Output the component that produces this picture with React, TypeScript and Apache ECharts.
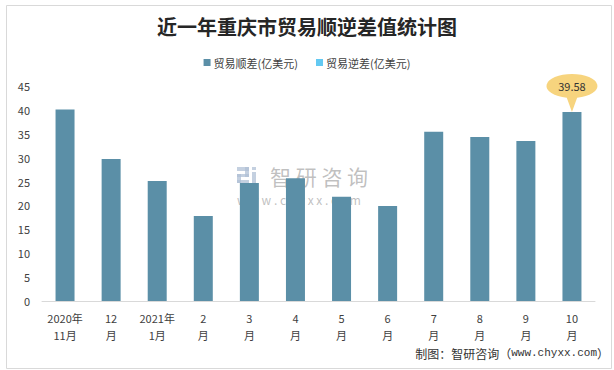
import React, { useEffect, useRef } from "react";
import * as echarts from "echarts";

const categories = ["2020年\n11月", "12\n月", "2021年\n1月", "2\n月", "3\n月", "4\n月", "5\n月", "6\n月", "7\n月", "8\n月", "9\n月", "10\n月"];
const surplus = [40.1, 29.7, 25.1, 17.8, 24.7, 25.7, 21.8, 19.9, 35.4, 34.3, 33.5, 39.58];
const deficit: (number | string)[] = [];
const seriesNames = ["贸易顺差(亿美元)", "贸易逆差(亿美元)"];
const titleText = "近一年重庆市贸易顺逆差值统计图";
const sourcePrefix = "制图：智研咨询（";
const sourceUrl = "www.chyxx.com";
const sourceSuffix = "）";

const calloutPath =
  "path://M50,0 A50,24 0 0 1 60.15,47.5 L50,76 L39.85,47.5 A50,24 0 0 1 50,0 Z";

export default function App() {
  const ref = useRef<HTMLDivElement>(null);
  useEffect(() => {
    document.body.style.margin = "0";
    const chart = echarts.init(ref.current!, null, { renderer: "svg" });
    const font = "'Noto Sans CJK SC', 'Noto Sans', sans-serif";
    const wm = "rgba(176,192,214,0.75)";
    chart.setOption({
      animation: false,
      backgroundColor: "#ffffff",
      textStyle: { fontFamily: font },
      title: {
        text: titleText,
        left: "center",
        top: 11,
        textStyle: { fontSize: 20, fontWeight: "bold", color: "#262626", fontFamily: font },
      },
      legend: {
        top: 52,
        left: "center",
        itemWidth: 7,
        itemHeight: 7,
        itemGap: 18,
        icon: "rect",
        textStyle: { fontSize: 11, color: "#404040", padding: [0, 0, 0, -2] },
        data: seriesNames,
      },
      grid: { left: 42, right: 19, top: 86, bottom: 69, containLabel: false },
      xAxis: {
        type: "category",
        data: categories,
        axisLine: { lineStyle: { color: "#d9d9d9" } },
        axisTick: { show: false },
        axisLabel: { color: "#404040", fontSize: 11, lineHeight: 17, margin: 8, interval: 0 },
      },
      yAxis: {
        type: "value",
        min: 0,
        max: 45,
        interval: 5,
        axisLine: { show: false },
        axisTick: { show: false },
        splitLine: { show: false },
        axisLabel: { color: "#404040", fontSize: 11, margin: 12 },
      },
      series: [
        {
          name: seriesNames[0],
          type: "bar",
          data: surplus,
          barWidth: 19,
          barGap: "-100%",
          z: 10,
          itemStyle: { color: "#5b8fa7" },
          markPoint: {
            symbol: calloutPath,
            symbolSize: [51, 38],
            symbolOffset: [0, -19],
            itemStyle: { color: "#f7d47e" },
            label: {
              show: true,
              offset: [0, -7],
              color: "#333333",
              fontSize: 11,
              formatter: (p: any) => String(p.value),
            },
            data: [{ coord: [categories[11], surplus[11]], value: surplus[11] }],
          },
        },
        {
          name: seriesNames[1],
          type: "bar",
          data: deficit,
          barWidth: 19,
          itemStyle: { color: "#63c9f2" },
        },
      ],
      graphic: [
        {
          type: "rect",
          left: 4,
          top: 3,
          z: 0,
          shape: { width: 605, height: 363 },
          style: { fill: "none", stroke: "#d9d9d9", lineWidth: 1 },
          silent: true,
        },
        {
          type: "group",
          left: 237,
          top: 165,
          silent: true,
          z: 0,
          children: [
            { type: "rect", x: 0, y: 2, shape: { width: 12, height: 4 }, z: 0, style: { fill: wm } },
            { type: "rect", x: 8, y: 2, shape: { width: 4, height: 10 }, z: 0, style: { fill: wm } },
            { type: "rect", x: 0, y: 9, shape: { width: 12, height: 3 }, z: 0, style: { fill: wm } },
            { type: "rect", x: 0, y: 9, shape: { width: 4, height: 9 }, z: 0, style: { fill: wm } },
            { type: "rect", x: 0, y: 15, shape: { width: 12, height: 3 }, z: 0, style: { fill: wm } },
            { type: "rect", x: 15, y: 2, shape: { width: 4, height: 3 }, z: 0, style: { fill: wm } },
            { type: "rect", x: 15, y: 7, shape: { width: 4, height: 11 }, z: 0, style: { fill: wm } },
            {
              type: "text",
              x: 33,
              y: 0,
              z: 0,
              style: { text: "智 研 咨 询", fontSize: 21, lineHeight: 21, fill: "rgba(150,150,150,0.6)", fontFamily: font },
            },
            {
              type: "text",
              x: 0,
              y: 28,
              z: 0,
              style: { text: "w w w . c h y x x . c o m", fontSize: 12, lineHeight: 12, fill: "rgba(150,150,150,0.6)", fontFamily: font },
            },
          ],
        },
        {
          type: "text",
          right: 5,
          top: 347,
          style: {
            text: "{a|" + sourcePrefix + "}{b|" + sourceUrl + "}{a|" + sourceSuffix + "}",
            rich: {
              a: { fontSize: 12, fill: "#333333", color: "#333333", fontFamily: font },
              b: { fontSize: 11, fill: "#333333", color: "#333333", fontFamily: "'Liberation Mono', 'DejaVu Sans Mono', monospace" },
            },
          },
        },
      ],
    });
    return () => chart.dispose();
  }, []);
  return <div ref={ref} style={{ width: 614, height: 370 }} />;
}
